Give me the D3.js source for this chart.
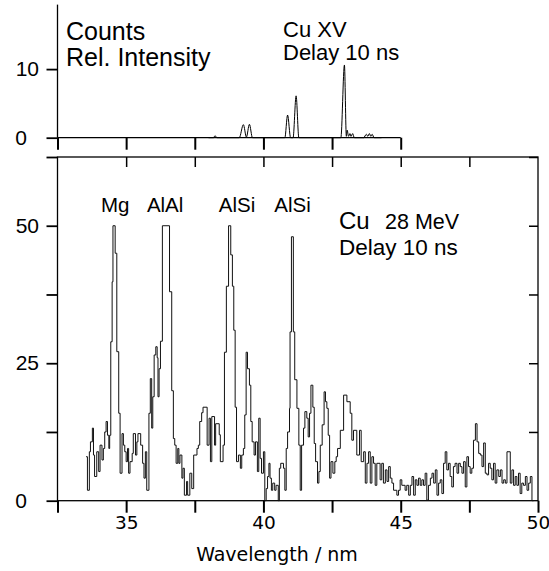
<!DOCTYPE html>
<html><head><meta charset="utf-8">
<script src="https://cdn.jsdelivr.net/npm/d3@7"></script>
<style>body{margin:0;background:#fff}svg{display:block}</style>
</head><body>
<svg id="c" width="549" height="571"></svg>
<script>
// ---- bottom spectrum: step histogram (bin start wavelength, counts) ----
const wavelength = [
33.54,33.59,33.66,33.70,33.77,33.81,33.85,33.93,34.00,34.05,34.12,34.17,34.22,34.27,34.32,34.37,34.40,34.44,34.49,34.52,
34.60,34.66,34.73,34.78,34.85,34.90,34.95,35.00,35.05,35.09,35.14,35.22,35.26,35.34,35.39,35.43,35.53,35.60,35.65,35.70,
35.75,35.83,35.88,35.93,35.97,36.02,36.08,36.13,36.16,36.20,36.25,36.32,36.58,36.66,36.72,36.77,36.82,36.88,36.92,36.96,
37.03,37.07,37.12,37.20,37.24,37.32,37.39,37.46,37.58,37.63,37.68,37.75,37.80,37.95,38.02,38.07,38.12,38.22,38.26,38.39,
38.43,38.53,38.58,38.65,38.73,38.81,38.87,38.92,38.97,39.02,39.09,39.16,39.21,39.27,39.32,39.37,39.42,39.49,39.54,39.59,
39.66,39.71,39.78,39.83,39.88,39.93,40.00,40.05,40.10,40.15,40.20,40.24,40.29,40.34,40.41,40.46,40.54,40.58,40.63,40.73,
40.78,40.83,40.88,40.95,40.97,41.02,41.09,41.14,41.22,41.29,41.34,41.39,41.46,41.51,41.58,41.63,41.68,41.73,41.80,41.85,
41.90,41.97,42.02,42.07,42.14,42.21,42.26,42.31,42.36,42.41,42.46,42.53,42.60,42.65,42.70,42.80,42.92,43.04,43.16,43.22,
43.28,43.40,43.50,43.56,43.65,43.71,43.77,43.83,43.89,43.95,44.01,44.07,44.13,44.25,44.31,44.37,44.44,44.50,44.56,44.62,
44.68,44.74,44.86,44.92,44.98,45.04,45.16,45.22,45.29,45.35,45.41,45.47,45.53,45.59,45.65,45.71,45.77,45.83,45.89,45.95,
46.01,46.08,46.14,46.20,46.26,46.32,46.38,46.44,46.50,46.56,46.62,46.68,46.74,46.80,46.86,46.92,46.98,47.05,47.11,47.17,
47.23,47.29,47.35,47.41,47.47,47.53,47.59,47.65,47.72,47.78,47.84,47.90,47.96,48.02,48.08,48.14,48.20,48.26,48.32,48.38,
48.44,48.50,48.57,48.63,48.69,48.75,48.81,48.87,48.99,49.05,49.11,49.17,49.23,49.29,49.35,49.41,49.47,49.54,49.60,49.66,
49.72,49.78
];
const counts = [
8.0,1.9,8.9,10.7,13.2,8.3,4.4,8.9,5.3,10.1,7.4,9.5,12.5,14.4,11.9,9.5,11.9,28.9,39.8,50,
45,27.1,15.9,5.0,12.2,10.1,8.9,7.1,9.5,5.0,7.1,8.6,12.2,8.3,10.7,12.2,10.1,6.8,4.1,8.9,
1.9,15.9,22.2,13.2,18.9,26.5,28.0,26.0,18.9,24.0,29.0,50,38,20,11.3,10.1,6.8,9.5,6.8,8.3,
4.1,5.9,1.0,3.5,1.0,5.0,2.2,8.3,9.5,10.1,14.4,16.0,17.0,10.1,15.0,7.1,15.3,10.1,14.0,12.0,
7.1,10.1,27.0,39.0,50,44.7,39.0,31.0,17.0,7.1,8.3,5.9,8.3,9.5,15.6,27,24,21,14.4,10.7,
8.3,10.7,5.3,15,7.7,5,8.9,0,2.2,4.4,6.8,4.1,1.9,3.2,1.9,2.8,0,5.9,6.8,5.9,
1.9,9.5,12.5,16.8,30.7,48,30.7,22,16.8,10.1,1.9,10.1,13.2,16.2,15,11.6,15.9,21,17,10.4,
7.1,3.2,5.3,10.1,13.8,19.8,18,16.8,11.9,4.1,7.1,5,7.1,8,9.5,12.8,19.2,18,15.9,11,
12.8,8.3,12.8,7.1,8.9,3.2,6.8,8.9,3.2,8,6.8,2.8,6.8,3.8,6.8,3.2,5.6,3.5,6.2,4.1,
3.2,1.9,1.0,1.9,3.8,2.8,1.9,2.8,1.0,2.8,4.4,1.0,3.8,2.8,4.1,2.8,3.8,2.8,5,0.1,
2.8,4.1,5,3.2,5.6,1.0,3.2,3.8,1.3,6.8,8.9,5.6,6.8,4.4,2.5,6.2,6.8,5,6.8,6.2,
5,7.1,2.5,8,6.2,5,5.9,11,14,10.7,8.6,8.3,6.2,10.5,5,4.7,6.8,5.9,3.8,6.8,
3.2,5.6,4.4,5.6,3.2,3.8,3.2,8.9,3.2,5.6,2.8,4.4,2.8,5,1.3,3.2,2.8,4.4,1.9,3.2,
4.4,0
];
const wavelengthEnd = 49.84;

// ---- top panel: Cu XV relative intensity ----
const topWavelength = [38.00,38.18,38.24,38.30,39.12,39.27,39.38,39.49,39.60,40.78,40.88,40.99,41.08,41.19,41.29,
  42.82,42.95,43.02,43.05,43.10,43.15,43.19,43.25,43.31,43.65,43.75,43.80,43.86,43.91,43.96,44.03,44.30];
const topIntensity  = [0,0,0.3,0,0,1.9,0.1,1.95,0,0,3.3,0,0,6.1,0,
  0,10.6,0.2,1.1,0.2,0.6,0.2,0.6,0,0,0.5,0.2,0.6,0.2,0.5,0,0];

// ---- axes / labels ----
const xDomain = [32.5, 50];
const xTopDomainEnd = 45;
const xTicks = [32.5,35,37.5,40,42.5,45,47.5,50];
const xTickLabels = [35,40,45,50];
const yDomain = [0, 62.5];
const yTicks = [0,12.5,25,37.5,50,62.5];
const yTickLabels = [0,25,50];
const topYMax = 19.4;
const topYTicks = [0,10];
const peakNames = ["Mg","AlAl","AlSi","AlSi"];
const peakWavelengths = [34.60,36.42,39.04,41.06];

const svg = d3.select("#c");
const L = 57.5, R = 538, B = 500.7, T = 157;
const x = d3.scaleLinear().domain(xDomain).range([L, R]);
const y = d3.scaleLinear().domain(yDomain).range([B, T]);
const yT = d3.scaleLinear().domain([0, 10]).range([137.7, 69.1]);

const sans = "'Liberation Sans', Arial, Helvetica, sans-serif";
const dv = "'DejaVu Sans', sans-serif";

function styleAxis(g, sw) {
  g.select(".domain").remove();
  g.selectAll(".tick line").attr("stroke", "#000").attr("stroke-width", sw);
}
function styleYLabels(g) {
  g.selectAll(".tick text")
    .attr("font-family", sans).attr("font-size", 21).attr("fill", "#000")
    .attr("x", d => d === 0 ? -30.5 : -18.5);
}

// bottom frame
svg.append("rect").attr("x", L).attr("y", T).attr("width", R - L).attr("height", B - T)
  .attr("fill", "none").attr("stroke", "#000").attr("stroke-width", 1.3);

// bottom axis
const gxb = svg.append("g").attr("transform", `translate(0,${B})`)
  .call(d3.axisBottom(x).tickValues(xTicks).tickSize(12).tickPadding(3)
    .tickFormat(d => xTickLabels.includes(d) ? d : ""));
styleAxis(gxb, 2);
gxb.selectAll("text").attr("font-family", dv).attr("font-size", 18.5).attr("fill", "#000");

// top of bottom frame (inward ticks)
const gxt = svg.append("g").attr("transform", `translate(0,${T})`)
  .call(d3.axisBottom(x).tickValues(xTicks.slice(1, -1)).tickSize(10).tickFormat(""));
styleAxis(gxt, 1.5);

// left axis
const gyl = svg.append("g").attr("transform", `translate(${L},0)`)
  .call(d3.axisLeft(y).tickValues(yTicks).tickSize(11)
    .tickFormat(d => yTickLabels.includes(d) ? d : ""));
styleAxis(gyl, 1.8);
styleYLabels(gyl);

// right axis (inward ticks)
const gyr = svg.append("g").attr("transform", `translate(${R},0)`)
  .call(d3.axisLeft(y).tickValues(yTicks.slice(1)).tickSize(9).tickFormat(""));
styleAxis(gyr, 1.5);

// histogram
const pts = wavelength.map((w, i) => [w, counts[i]]);
pts.push([wavelengthEnd, counts[counts.length - 1]]);
svg.append("path").datum(pts)
  .attr("d", d3.line().x(d => x(d[0])).y(d => y(d[1])).curve(d3.curveStepAfter))
  .attr("fill", "none").attr("stroke", "#111").attr("stroke-width", 1);

// ---- top panel ----
svg.append("line").attr("x1", x(xDomain[0])).attr("x2", x(xTopDomainEnd))
  .attr("y1", yT(0)).attr("y2", yT(0)).attr("stroke", "#000").attr("stroke-width", 1.3);
svg.append("line").attr("x1", L).attr("x2", L)
  .attr("y1", yT(0)).attr("y2", yT(topYMax)).attr("stroke", "#000").attr("stroke-width", 1.3);
const gtx = svg.append("g").attr("transform", `translate(0,${yT(0)})`)
  .call(d3.axisBottom(x).tickValues(xTicks.filter(d => d <= xTopDomainEnd)).tickSize(12).tickFormat(""));
styleAxis(gtx, 2);
const gty = svg.append("g").attr("transform", `translate(${L},0)`)
  .call(d3.axisLeft(yT).tickValues(topYTicks).tickSize(11));
styleAxis(gty, 1.8);
styleYLabels(gty);

const tpts = topWavelength.map((w, i) => [w, topIntensity[i]]);
svg.append("path").datum(tpts)
  .attr("d", d3.line().x(d => x(d[0])).y(d => yT(d[1])).curve(d3.curveMonotoneX))
  .attr("fill", "none").attr("stroke", "#000").attr("stroke-width", 1);

// ---- texts ----
function txt(s, xx, yy, size, anchor) {
  return svg.append("text").attr("x", xx).attr("y", yy)
    .attr("font-family", sans).attr("font-size", size)
    .attr("text-anchor", anchor || "start").attr("fill", "#000").text(s);
}
txt("Counts", 66, 40, 25);
txt("Rel. Intensity", 66, 66, 25);
txt("Cu XV", 283, 37, 22);
txt("Delay 10 ns", 283, 60, 22);

peakNames.forEach((n, i) => txt(n, x(peakWavelengths[i]), 212, 20.5, "middle"));

const cu = txt("", 339, 228.5, 22);
cu.append("tspan").attr("font-size", 24).text("Cu");
cu.append("tspan").attr("font-size", 21.5).attr("x", 385).text("28 MeV");
txt("Delay 10 ns", 339, 255, 22.5);

svg.append("text").attr("x", 277).attr("y", 561).attr("font-family", dv).attr("font-size", 19)
  .attr("text-anchor", "middle").attr("fill", "#000").text("Wavelength / nm");
</script>
</body></html>
